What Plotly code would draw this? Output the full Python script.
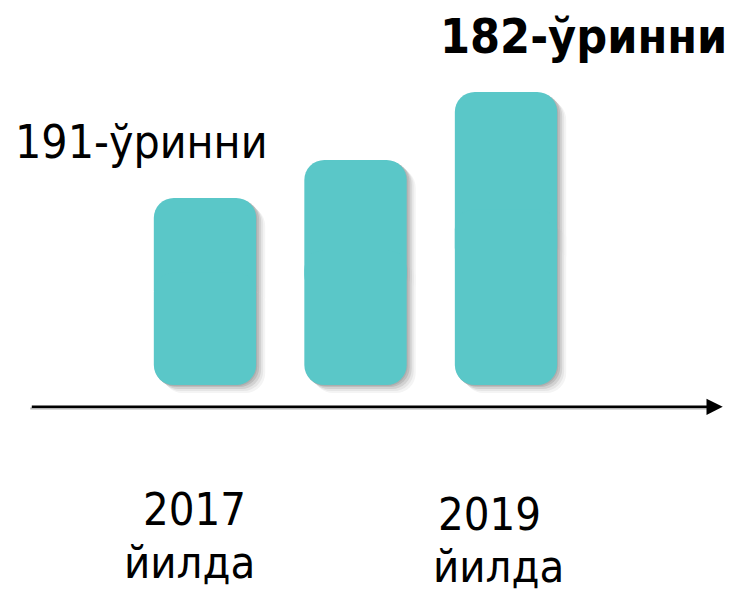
import plotly.graph_objects as go

# ---- data ----
years = [2017, 2018, 2019]
bar_values = [187, 225, 293]           # relative bar heights
rank_labels = ["191-ўринни", "182-ўринни"]
year_labels = ["2017", "2019"]
year_word = "йилда"

BAR_COLOR = "#5AC7C8"
FONT = "DejaVu Sans Condensed, DejaVu Sans, sans-serif"
bar_w = 0.68
RADIUS = 20

fig = go.Figure()


def add_rounded(color, dx_px=0, dy=0):
    """Bar rounded at both ends: two overlapping halves (top- and bottom-rounded)."""
    off = -bar_w / 2 + dx_px / 150.5
    fig.add_trace(go.Bar(
        x=years, y=[v * 0.6 for v in bar_values], base=[v * 0.4 - dy for v in bar_values],
        width=bar_w, offset=off,
        marker=dict(color=color, cornerradius=RADIUS, line=dict(width=0)),
        hoverinfo="skip", showlegend=False,
    ))
    fig.add_trace(go.Bar(
        x=years, y=[-v * 0.6 for v in bar_values], base=[v * 0.6 - dy for v in bar_values],
        width=bar_w, offset=off,
        marker=dict(color=color, cornerradius=RADIUS, line=dict(width=0)),
        hoverinfo="skip", showlegend=False,
    ))


# soft shadow layers (opaque greys, offset right/down)
for dx, dy, col in [(9, 8, "#F4F4F4"), (7, 6, "#E6E6E6"), (5, 4, "#D2D2D2"),
                    (3, 2, "#BDBDBD"), (1, 1, "#ADADAD")]:
    add_rounded(col, dx, dy)

# main bars
add_rounded(BAR_COLOR)

# axis arrow (with faint shadow line)
fig.add_shape(type="line", xref="x domain", yref="y domain",
              x0=0.041, x1=0.962, y0=0.311, y1=0.311,
              line=dict(color="rgba(0,0,0,0.3)", width=2))
fig.add_annotation(x=0.978, y=0.314, ax=0.041, ay=0.314,
                   xref="x domain", yref="y domain", axref="x domain", ayref="y domain",
                   showarrow=True, arrowhead=2, arrowsize=1.3, arrowwidth=2.5,
                   arrowcolor="black", text="")

# rank labels
fig.add_annotation(x=0.018, y=0.760, xref="paper", yref="paper",
                   xanchor="left", yanchor="middle", showarrow=False,
                   text=rank_labels[0], font=dict(family=FONT, size=46, color="black"))
fig.add_annotation(x=0.986, y=0.940, xref="paper", yref="paper",
                   xanchor="right", yanchor="middle", showarrow=False,
                   text="<b>" + rank_labels[1] + "</b>",
                   font=dict(family=FONT, size=48, color="black"))

# year labels
for yl, xc_top, xc_bot, yt, yb in [(year_labels[0], 0.263, 0.257, 0.140, 0.052),
                                   (year_labels[1], 0.662, 0.674, 0.133, 0.045)]:
    fig.add_annotation(x=xc_top, y=yt, xref="paper", yref="paper",
                       xanchor="center", yanchor="middle", showarrow=False,
                       text=yl, font=dict(family=FONT, size=45, color="black"))
    fig.add_annotation(x=xc_bot, y=yb, xref="paper", yref="paper",
                       xanchor="center", yanchor="middle", showarrow=False,
                       text=year_word, font=dict(family=FONT, size=45, color="black"))

fig.update_layout(
    width=739, height=593,
    margin=dict(l=0, r=0, t=0, b=0),
    paper_bgcolor="white", plot_bgcolor="white",
    barmode="overlay",
    xaxis=dict(range=[2015.638, 2020.548], visible=False, fixedrange=True),
    yaxis=dict(range=[-208, 385], visible=False, fixedrange=True),
)

fig.write_html("out.html", config={"displayModeBar": False},
               post_script="document.body.style.margin='0';")
